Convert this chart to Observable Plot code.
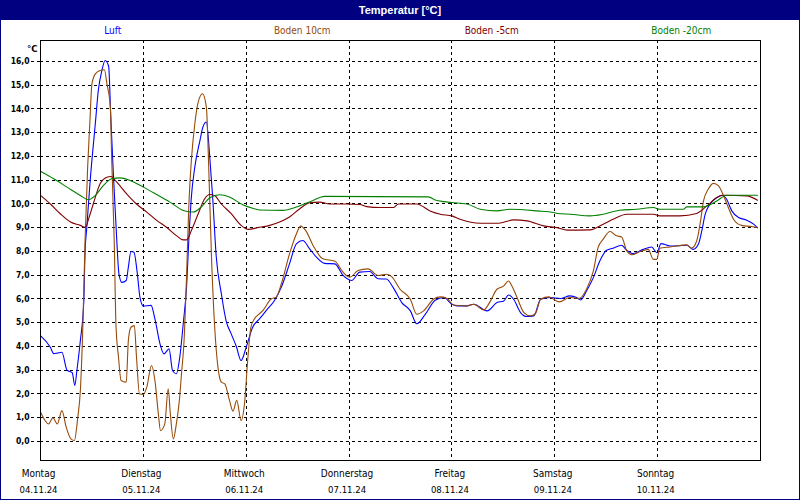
<!DOCTYPE html>
<html>
<head>
<meta charset="utf-8">
<script src="https://cdn.jsdelivr.net/npm/d3@7"></script>
<script src="https://cdn.jsdelivr.net/npm/@observablehq/plot@0.6"></script>
<style>
  html, body { margin: 0; padding: 0; background: #fff; }
  #wrap { position: relative; width: 800px; height: 500px; background: #fff; overflow: hidden;
          font-family: "Liberation Sans Narrow", "DejaVu Sans Condensed", "Liberation Sans", sans-serif; }
  #title { position: absolute; left: 0; top: 0; width: 800px; height: 20px; background: #000080; color: #fff;
           font: bold 11px "Liberation Sans", Arial, sans-serif; text-align: center; line-height: 20px; }
  #legend { position: absolute; left: 18px; top: 24px; width: 758px; height: 14px; display: flex;
            font-size: 10px; line-height: 14px; }
  #legend span { flex: 1; text-align: center; }
  #chart { position: absolute; left: 0; top: 20px; }
  #border { position: absolute; left: 0; top: 0; width: 800px; height: 500px; box-sizing: border-box;
            border: 1px solid #000080; pointer-events: none; }
</style>
</head>
<body>
<div id="wrap">
  <div id="title">Temperatur [°C]</div>
  <div id="legend"></div>
  <div id="chart"></div>
  <div id="border"></div>
</div>
<script>
// ---- data (hours since Monday 04.11.24 00:00) ----
const seriesNames = ["Luft", "Boden 10cm", "Boden -5cm", "Boden -20cm"];
const seriesColors = ["#0000ff", "#964b0a", "#800000", "#008000"];

const dayNames = ["Montag", "Dienstag", "Mittwoch", "Donnerstag", "Freitag", "Samstag", "Sonntag"];
const dayDates = ["04.11.24", "05.11.24", "06.11.24", "07.11.24", "08.11.24", "09.11.24", "10.11.24"];
const dayHours = [0, 24, 48, 72, 96, 120, 144];
const yTicks = [0, 1, 2, 3, 4, 5, 6, 7, 8, 9, 10, 11, 12, 13, 14, 15, 16];

const luftT = [0, 2.3, 3.1, 3.9, 5.0, 6.2, 7.4, 8.0, 8.5, 9.3, 10.1, 10.4, 10.8, 11.6, 12.8, 13.5, 14.3, 15.1, 15.9, 16.4, 17.0, 17.8, 18.3, 19.0, 20.0, 20.5, 21.1, 21.8, 22.6, 23.2, 24.0, 25.8, 26.7, 27.9, 28.8, 30.0, 30.8, 31.7, 32.5, 33.3, 34.1, 34.6, 35.2, 36.0, 37.2, 37.9, 38.7, 39.5, 40.2, 41.0, 42.2, 43.3, 44.5, 45.7, 46.8, 48.0, 49.5, 51.1, 52.7, 54.6, 56.2, 58.1, 59.7, 61.2, 62.8, 64.4, 66.3, 68.7, 70.6, 72.6, 74.5, 76.8, 78.8, 80.7, 82.3, 84.3, 86.3, 87.8, 89.8, 92.1, 94.1, 96.0, 97.2, 99.5, 101.1, 104.2, 106.5, 108.1, 109.2, 110.4, 112.0, 113.5, 115.1, 116.7, 119.0, 121.3, 123.5, 125.1, 126.0, 127.4, 129.0, 130.5, 132.1, 133.6, 135.6, 136.8, 138.3, 140.6, 142.6, 143.8, 144.8, 146.9, 150.8, 152.3, 153.5, 154.3, 155.1, 156.2, 157.8, 159.0, 160.1, 161.3, 162.9, 164.8, 166.4, 167.3];
const luftV = [4.46, 3.97, 3.7, 3.72, 3.76, 3.0, 2.9, 2.36, 3.0, 4.25, 5.9, 8.0, 9.0, 11.0, 13.4, 14.8, 15.6, 16.04, 15.8, 13.65, 11.27, 8.46, 7.06, 6.7, 6.78, 7.34, 8.0, 7.97, 7.06, 6.08, 5.7, 5.73, 5.16, 4.1, 3.69, 3.9, 2.99, 2.85, 3.55, 4.95, 6.57, 8.46, 10.29, 11.55, 12.67, 13.24, 13.45, 11.97, 10.2, 7.8, 6.22, 5.09, 4.53, 4.0, 3.41, 3.97, 4.81, 5.16, 5.52, 5.94, 6.5, 7.48, 8.32, 8.46, 8.11, 7.76, 7.5, 7.48, 6.99, 6.78, 7.13, 7.16, 6.85, 6.84, 6.48, 5.85, 5.5, 4.96, 5.36, 5.95, 6.06, 5.78, 5.71, 5.71, 5.78, 5.5, 5.85, 5.92, 6.17, 5.99, 5.43, 5.26, 5.29, 5.99, 6.06, 6.02, 6.13, 6.06, 5.96, 6.34, 6.9, 7.6, 8.05, 8.14, 8.26, 8.05, 7.91, 8.09, 8.19, 7.95, 8.33, 8.23, 8.26, 8.09, 8.3, 8.87, 9.57, 9.99, 10.27, 10.37, 10.2, 9.71, 9.43, 9.32, 9.15, 9.0];

const boden10T = [0, 1.9, 2.9, 3.9, 5.0, 6.0, 7.1, 7.9, 8.7, 9.3, 9.9, 10.4, 11.0, 11.5, 12.0, 12.8, 13.9, 14.9, 15.5, 16.3, 16.6, 17.2, 17.6, 18.2, 18.8, 20.0, 20.5, 21.1, 21.9, 22.4, 23.1, 24.0, 24.8, 25.9, 26.7, 27.5, 28.0, 29.0, 29.8, 30.3, 31.0, 31.7, 32.4, 32.9, 33.5, 34.1, 34.6, 35.2, 36.0, 36.8, 37.8, 38.7, 39.3, 39.9, 40.6, 41.4, 42.2, 43.0, 44.1, 44.9, 45.8, 46.8, 47.6, 48.4, 49.1, 49.9, 51.1, 51.9, 53.8, 55.0, 56.2, 58.1, 59.7, 60.7, 61.9, 63.6, 65.9, 68.7, 70.6, 72.2, 74.1, 76.4, 78.8, 80.8, 82.0, 83.9, 86.3, 87.8, 89.4, 91.7, 93.3, 94.8, 96.4, 99.5, 101.1, 103.4, 105.0, 106.5, 108.1, 109.2, 110.0, 111.2, 112.8, 114.3, 115.5, 116.7, 118.6, 121.0, 123.5, 125.8, 127.4, 129.0, 130.1, 131.3, 132.9, 134.4, 135.6, 136.8, 138.0, 139.9, 141.8, 143.0, 143.8, 144.5, 146.9, 150.8, 151.9, 153.1, 153.9, 154.7, 155.8, 157.0, 158.2, 159.4, 160.5, 161.7, 163.6, 165.9, 167.3];
const boden10V = [1.24, 0.74, 1.0, 0.74, 1.3, 0.6, 0.11, 0.04, 1.02, 2.15, 4.95, 8.46, 11.55, 13.37, 15.06, 15.48, 15.62, 15.65, 15.06, 14.08, 11.97, 8.46, 4.95, 3.55, 2.57, 2.5, 4.25, 4.81, 4.88, 3.55, 2.0, 1.98, 2.29, 3.2, 2.57, 1.16, 0.46, 0.74, 2.22, 1.16, 0.11, 0.74, 1.73, 2.85, 4.25, 7.06, 9.87, 11.83, 13.37, 14.29, 14.64, 14.08, 11.27, 7.76, 4.95, 3.13, 2.5, 2.43, 1.73, 1.28, 1.73, 0.88, 1.59, 3.55, 4.81, 5.16, 5.38, 5.52, 6.0, 6.08, 6.64, 7.9, 8.74, 9.07, 8.88, 8.25, 7.69, 7.59, 7.13, 6.92, 7.2, 7.27, 6.99, 7.04, 6.93, 6.41, 5.99, 5.36, 5.5, 5.99, 6.09, 6.03, 5.75, 5.71, 5.78, 5.54, 5.92, 6.41, 6.55, 6.76, 6.55, 6.06, 5.43, 5.29, 5.39, 5.99, 6.09, 5.88, 6.06, 6.03, 6.41, 7.18, 8.16, 8.52, 8.84, 8.66, 8.61, 8.02, 7.86, 8.0, 8.09, 7.67, 7.67, 8.14, 8.19, 8.28, 8.14, 8.44, 9.15, 10.13, 10.62, 10.87, 10.76, 10.34, 9.85, 9.36, 9.1, 9.05, 9.0];

const boden5T = [0, 2.3, 4.6, 7.0, 9.3, 10.4, 11.6, 12.8, 13.9, 15.5, 16.4, 17.8, 20.1, 22.4, 24.8, 27.1, 29.4, 31.7, 33.3, 34.1, 35.2, 36.8, 38.3, 39.5, 40.6, 42.2, 44.5, 46.8, 48.4, 51.1, 53.5, 55.8, 58.1, 60.5, 62.8, 65.1, 67.5, 71.4, 74.5, 76.1, 79.2, 82.3, 83.5, 87.8, 90.9, 93.3, 96.0, 97.9, 102.6, 106.9, 110.4, 113.5, 117.4, 120.6, 122.9, 128.2, 131.3, 133.6, 136.8, 143.0, 144.5, 149.2, 153.1, 155.5, 157.8, 159.4, 164.8, 167.3];
const boden5V = [10.36, 10.0, 9.59, 9.24, 9.1, 9.02, 9.59, 10.29, 10.85, 11.13, 11.16, 10.92, 10.43, 10.0, 9.66, 9.31, 9.02, 8.67, 8.49, 8.49, 8.88, 9.59, 10.22, 10.4, 10.36, 10.0, 9.59, 9.1, 8.93, 9.02, 9.1, 9.24, 9.45, 9.8, 10.05, 10.08, 10.0, 10.0, 9.98, 9.89, 9.85, 9.85, 10.0, 10.0, 9.71, 9.57, 9.5, 9.36, 9.19, 9.19, 9.33, 9.29, 9.08, 9.0, 8.9, 8.91, 9.15, 9.36, 9.57, 9.57, 9.5, 9.5, 9.6, 9.92, 10.27, 10.37, 10.34, 10.16];

const boden20T = [0, 3.1, 6.2, 9.3, 11.2, 12.8, 14.7, 16.6, 18.6, 20.9, 24.0, 27.1, 30.2, 33.3, 35.6, 37.5, 39.5, 41.8, 44.1, 47.2, 49.5, 51.1, 56.6, 59.7, 63.6, 66.3, 90.5, 92.1, 94.1, 96.0, 99.5, 102.6, 106.5, 109.6, 115.9, 119.8, 120.6, 123.7, 128.2, 131.3, 135.2, 139.1, 143.0, 144.5, 150.0, 150.8, 154.7, 157.8, 160.1, 167.3];
const boden20V = [11.38, 11.06, 10.71, 10.36, 10.18, 10.36, 10.78, 11.06, 11.1, 10.99, 10.71, 10.4, 10.08, 9.73, 9.66, 9.87, 10.26, 10.39, 10.29, 9.97, 9.82, 9.75, 9.73, 9.87, 10.15, 10.32, 10.3, 10.17, 10.1, 10.06, 10.0, 9.78, 9.71, 9.78, 9.71, 9.64, 9.6, 9.57, 9.5, 9.57, 9.74, 9.78, 9.85, 9.78, 9.78, 9.88, 9.88, 10.13, 10.37, 10.37];

// ---- build ----
const toRows = (T, V) => T.map((t, i) => ({t, v: V[i]}));
const series = [
  toRows(luftT, luftV),
  toRows(boden10T, boden10V),
  toRows(boden5T, boden5V),
  toRows(boden20T, boden20V)
];

const legend = document.getElementById("legend");
seriesNames.forEach((n, i) => {
  const s = document.createElement("span");
  s.textContent = n;
  s.style.color = seriesColors[i];
  legend.appendChild(s);
});

const fmt = d => d.toFixed(1).replace(".", ",");
const days = dayHours.map((h, i) => ({h, name: dayNames[i], date: dayDates[i]}));

const chart = Plot.plot({
  width: 800,
  height: 480,
  marginTop: 20,
  marginBottom: 40,
  marginLeft: 40,
  marginRight: 40,
  style: {background: "transparent", fontFamily: "'Liberation Sans Narrow', 'DejaVu Sans Condensed', 'Liberation Sans', sans-serif", color: "#000"},
  x: {domain: [0, 168], axis: null},
  y: {domain: [-0.8, 16.884], axis: null},
  marks: [
    Plot.gridY(yTicks, {stroke: "#000", strokeOpacity: 1, strokeDasharray: "3,3", shapeRendering: "crispEdges"}),
    Plot.gridX(dayHours.slice(1), {stroke: "#000", strokeOpacity: 1, strokeDasharray: "3,3", shapeRendering: "crispEdges"}),
    Plot.axisY(yTicks, {label: null, tickSize: 9, tickPadding: 2, tickFormat: fmt, strokeDasharray: "3,3", fontSize: 8.5, fontWeight: "bold", shapeRendering: "crispEdges"}),
    Plot.text(["°C"], {frameAnchor: "top-left", dx: -3, dy: 5, textAnchor: "end", fontSize: 9.5, fontWeight: "bold"}),
    ...series.map((rows, i) => Plot.line(rows, {x: "t", y: "v", stroke: seriesColors[i], strokeWidth: 1.1, curve: "monotone-x"})),
    Plot.frame({stroke: "#000", strokeWidth: 1, shapeRendering: "crispEdges"}),
    Plot.text(days, {x: "h", text: "name", frameAnchor: "bottom", dx: -2, dy: 13, fontSize: 10, lineAnchor: "middle"}),
    Plot.text(days, {x: "h", text: "date", frameAnchor: "bottom", dx: -2, dy: 29, fontSize: 9.5, lineAnchor: "middle"})
  ]
});
document.getElementById("chart").appendChild(chart);
</script>
</body>
</html>
